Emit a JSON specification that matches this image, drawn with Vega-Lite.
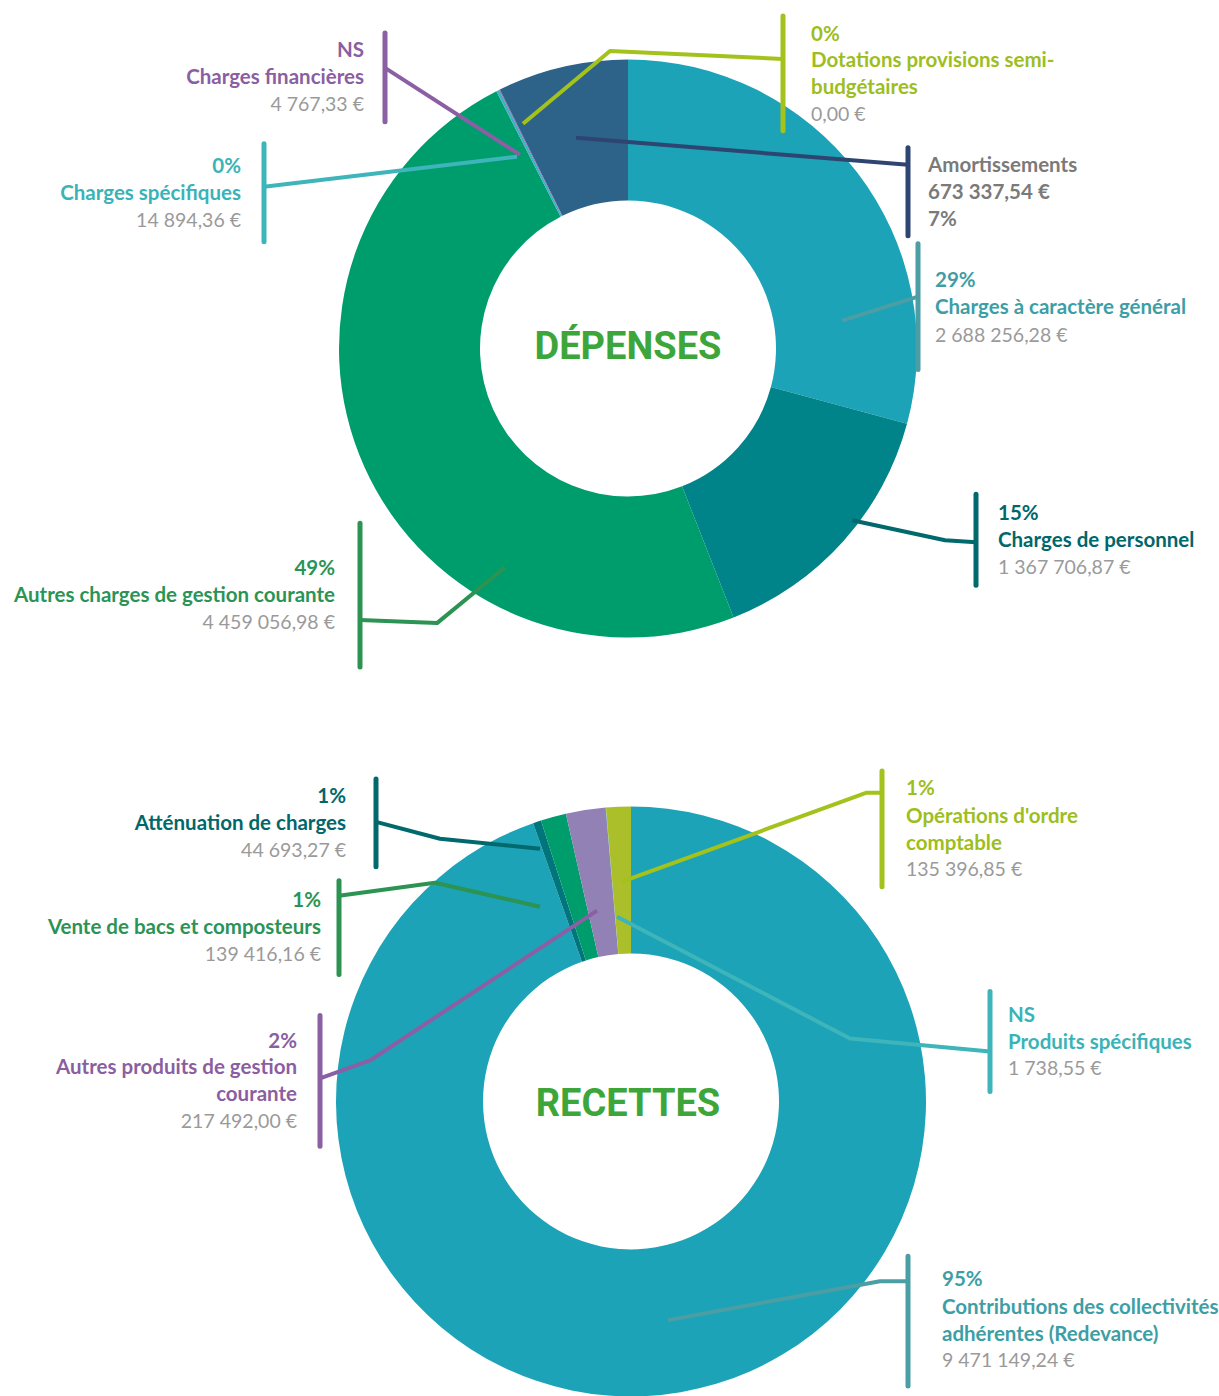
{
  "$schema": "https://vega.github.io/schema/vega-lite/v6.json",
  "width": 1219,
  "height": 1396,
  "autosize": {"type": "fit", "contains": "padding"},
  "padding": 0,
  "background": "white",
  "config": {"view": {"stroke": null}, "font": "Lato"},
  "datasets": {
    "slices": [
      {"chart": "dep", "cat": "Charges à caractère général", "value": 2688256.28, "ord": 1},
      {"chart": "dep", "cat": "Charges de personnel", "value": 1367706.87, "ord": 2},
      {"chart": "dep", "cat": "Autres charges de gestion courante", "value": 4459056.98, "ord": 3},
      {"chart": "dep", "cat": "Charges spécifiques", "value": 14894.36, "ord": 4},
      {"chart": "dep", "cat": "Charges financières", "value": 4767.33, "ord": 5},
      {"chart": "dep", "cat": "Amortissements", "value": 673337.54, "ord": 6},
      {"chart": "dep", "cat": "Dotations provisions semi-budgétaires", "value": 0, "ord": 7},
      {"chart": "rec", "cat": "Contributions des collectivités adhérentes (Redevance)", "value": 9471149.24, "ord": 1},
      {"chart": "rec", "cat": "Atténuation de charges", "value": 44693.27, "ord": 2},
      {"chart": "rec", "cat": "Vente de bacs et composteurs", "value": 139416.16, "ord": 3},
      {"chart": "rec", "cat": "Autres produits de gestion courante", "value": 217492.00, "ord": 4},
      {"chart": "rec", "cat": "Produits spécifiques", "value": 1738.55, "ord": 5},
      {"chart": "rec", "cat": "Opérations d'ordre comptable", "value": 135396.85, "ord": 6}
    ],
    "bars": [
      {"cat": "Charges financières", "x": 385, "y": 33, "y2": 122},
      {"cat": "Dotations provisions semi-budgétaires", "x": 783, "y": 16, "y2": 131},
      {"cat": "Charges spécifiques", "x": 264, "y": 144, "y2": 242},
      {"cat": "Amortissements", "x": 908, "y": 148, "y2": 236},
      {"cat": "Charges à caractère général", "x": 918, "y": 244, "y2": 370},
      {"cat": "Charges de personnel", "x": 976, "y": 495, "y2": 586},
      {"cat": "Autres charges de gestion courante", "x": 360, "y": 524, "y2": 668},
      {"cat": "Atténuation de charges", "x": 376, "y": 780, "y2": 868},
      {"cat": "Vente de bacs et composteurs", "x": 339, "y": 882, "y2": 976},
      {"cat": "Autres produits de gestion courante", "x": 320, "y": 1017, "y2": 1148},
      {"cat": "Opérations d'ordre comptable", "x": 882, "y": 772, "y2": 888},
      {"cat": "Produits spécifiques", "x": 990, "y": 993, "y2": 1093},
      {"cat": "Contributions des collectivités adhérentes (Redevance)", "x": 908, "y": 1258, "y2": 1388}
    ],
    "leaders": [
      {"cat": "Charges financières", "i": 1, "x": 385, "y": 68},
      {"cat": "Charges financières", "i": 2, "x": 520, "y": 155},
      {"cat": "Dotations provisions semi-budgétaires", "i": 1, "x": 783, "y": 59},
      {"cat": "Dotations provisions semi-budgétaires", "i": 2, "x": 610, "y": 51},
      {"cat": "Dotations provisions semi-budgétaires", "i": 3, "x": 523, "y": 124},
      {"cat": "Charges spécifiques", "i": 1, "x": 264, "y": 187},
      {"cat": "Charges spécifiques", "i": 2, "x": 517, "y": 157},
      {"cat": "Amortissements", "i": 1, "x": 908, "y": 165},
      {"cat": "Amortissements", "i": 2, "x": 576, "y": 138},
      {"cat": "Charges à caractère général", "i": 1, "x": 918, "y": 297},
      {"cat": "Charges à caractère général", "i": 2, "x": 842, "y": 321},
      {"cat": "Charges de personnel", "i": 1, "x": 976, "y": 543},
      {"cat": "Charges de personnel", "i": 2, "x": 945, "y": 541},
      {"cat": "Charges de personnel", "i": 3, "x": 852, "y": 521},
      {"cat": "Autres charges de gestion courante", "i": 1, "x": 360, "y": 621},
      {"cat": "Autres charges de gestion courante", "i": 2, "x": 437, "y": 624},
      {"cat": "Autres charges de gestion courante", "i": 3, "x": 505, "y": 568},
      {"cat": "Atténuation de charges", "i": 1, "x": 376, "y": 823},
      {"cat": "Atténuation de charges", "i": 2, "x": 440, "y": 840},
      {"cat": "Atténuation de charges", "i": 3, "x": 540, "y": 850},
      {"cat": "Vente de bacs et composteurs", "i": 1, "x": 339, "y": 897},
      {"cat": "Vente de bacs et composteurs", "i": 2, "x": 435, "y": 884},
      {"cat": "Vente de bacs et composteurs", "i": 3, "x": 540, "y": 908},
      {"cat": "Autres produits de gestion courante", "i": 1, "x": 320, "y": 1080},
      {"cat": "Autres produits de gestion courante", "i": 2, "x": 370, "y": 1062},
      {"cat": "Autres produits de gestion courante", "i": 3, "x": 597, "y": 912},
      {"cat": "Opérations d'ordre comptable", "i": 1, "x": 882, "y": 794},
      {"cat": "Opérations d'ordre comptable", "i": 2, "x": 866, "y": 794},
      {"cat": "Opérations d'ordre comptable", "i": 3, "x": 622, "y": 883},
      {"cat": "Produits spécifiques", "i": 1, "x": 990, "y": 1053},
      {"cat": "Produits spécifiques", "i": 2, "x": 850, "y": 1040},
      {"cat": "Produits spécifiques", "i": 3, "x": 617, "y": 918},
      {"cat": "Contributions des collectivités adhérentes (Redevance)", "i": 1, "x": 908, "y": 1283},
      {"cat": "Contributions des collectivités adhérentes (Redevance)", "i": 2, "x": 880, "y": 1283},
      {"cat": "Contributions des collectivités adhérentes (Redevance)", "i": 3, "x": 668, "y": 1322}
    ],
    "labels": [
      {"cat": "Charges financières", "side": "L", "kind": "head", "text": "NS", "x": 364, "y": 51},
      {"cat": "Charges financières", "side": "L", "kind": "head", "text": "Charges financières", "x": 364, "y": 78},
      {"cat": "Charges financières", "side": "L", "kind": "amount", "text": "4 767,33 €", "x": 364, "y": 105},
      {"cat": "Dotations provisions semi-budgétaires", "side": "R", "kind": "head", "text": "0%", "x": 811, "y": 35},
      {"cat": "Dotations provisions semi-budgétaires", "side": "R", "kind": "head", "text": "Dotations provisions semi-", "x": 811, "y": 61},
      {"cat": "Dotations provisions semi-budgétaires", "side": "R", "kind": "head", "text": "budgétaires", "x": 811, "y": 88},
      {"cat": "Dotations provisions semi-budgétaires", "side": "R", "kind": "amount", "text": "0,00 €", "x": 811, "y": 115},
      {"cat": "Charges spécifiques", "side": "L", "kind": "head", "text": "0%", "x": 241, "y": 167},
      {"cat": "Charges spécifiques", "side": "L", "kind": "head", "text": "Charges spécifiques", "x": 241, "y": 194},
      {"cat": "Charges spécifiques", "side": "L", "kind": "amount", "text": "14 894,36 €", "x": 241, "y": 221},
      {"cat": "Amortissements", "side": "R", "kind": "head", "text": "Amortissements", "x": 928, "y": 166},
      {"cat": "Amortissements", "side": "R", "kind": "head", "text": "673 337,54 €", "x": 928, "y": 193},
      {"cat": "Amortissements", "side": "R", "kind": "head", "text": "7%", "x": 928, "y": 220},
      {"cat": "Charges à caractère général", "side": "R", "kind": "head", "text": "29%", "x": 935, "y": 281},
      {"cat": "Charges à caractère général", "side": "R", "kind": "head", "text": "Charges à caractère général", "x": 935, "y": 308},
      {"cat": "Charges à caractère général", "side": "R", "kind": "amount", "text": "2 688 256,28 €", "x": 935, "y": 336},
      {"cat": "Charges de personnel", "side": "R", "kind": "head", "text": "15%", "x": 998, "y": 515},
      {"cat": "Charges de personnel", "side": "R", "kind": "head", "text": "Charges de personnel", "x": 998, "y": 542},
      {"cat": "Charges de personnel", "side": "R", "kind": "amount", "text": "1 367 706,87 €", "x": 998, "y": 569},
      {"cat": "Autres charges de gestion courante", "side": "L", "kind": "head", "text": "49%", "x": 335, "y": 570},
      {"cat": "Autres charges de gestion courante", "side": "L", "kind": "head", "text": "Autres charges de gestion courante", "x": 335, "y": 597},
      {"cat": "Autres charges de gestion courante", "side": "L", "kind": "amount", "text": "4 459 056,98 €", "x": 335, "y": 624},
      {"cat": "Atténuation de charges", "side": "L", "kind": "head", "text": "1%", "x": 346, "y": 798},
      {"cat": "Atténuation de charges", "side": "L", "kind": "head", "text": "Atténuation de charges", "x": 346, "y": 825},
      {"cat": "Atténuation de charges", "side": "L", "kind": "amount", "text": "44 693,27 €", "x": 346, "y": 852},
      {"cat": "Vente de bacs et composteurs", "side": "L", "kind": "head", "text": "1%", "x": 321, "y": 902},
      {"cat": "Vente de bacs et composteurs", "side": "L", "kind": "head", "text": "Vente de bacs et composteurs", "x": 321, "y": 929},
      {"cat": "Vente de bacs et composteurs", "side": "L", "kind": "amount", "text": "139 416,16 €", "x": 321, "y": 956},
      {"cat": "Autres produits de gestion courante", "side": "L", "kind": "head", "text": "2%", "x": 297, "y": 1043},
      {"cat": "Autres produits de gestion courante", "side": "L", "kind": "head", "text": "Autres produits de gestion", "x": 297, "y": 1070},
      {"cat": "Autres produits de gestion courante", "side": "L", "kind": "head", "text": "courante", "x": 297, "y": 1097},
      {"cat": "Autres produits de gestion courante", "side": "L", "kind": "amount", "text": "217 492,00 €", "x": 297, "y": 1124},
      {"cat": "Opérations d'ordre comptable", "side": "R", "kind": "head", "text": "1%", "x": 906, "y": 790},
      {"cat": "Opérations d'ordre comptable", "side": "R", "kind": "head", "text": "Opérations d'ordre", "x": 906, "y": 818},
      {"cat": "Opérations d'ordre comptable", "side": "R", "kind": "head", "text": "comptable", "x": 906, "y": 845},
      {"cat": "Opérations d'ordre comptable", "side": "R", "kind": "amount", "text": "135 396,85 €", "x": 906, "y": 871},
      {"cat": "Produits spécifiques", "side": "R", "kind": "head", "text": "NS", "x": 1008, "y": 1017},
      {"cat": "Produits spécifiques", "side": "R", "kind": "head", "text": "Produits spécifiques", "x": 1008, "y": 1044},
      {"cat": "Produits spécifiques", "side": "R", "kind": "amount", "text": "1 738,55 €", "x": 1008, "y": 1071},
      {"cat": "Contributions des collectivités adhérentes (Redevance)", "side": "R", "kind": "head", "text": "95%", "x": 942, "y": 1282},
      {"cat": "Contributions des collectivités adhérentes (Redevance)", "side": "R", "kind": "head", "text": "Contributions des collectivités", "x": 942, "y": 1310},
      {"cat": "Contributions des collectivités adhérentes (Redevance)", "side": "R", "kind": "head", "text": "adhérentes (Redevance)", "x": 942, "y": 1337},
      {"cat": "Contributions des collectivités adhérentes (Redevance)", "side": "R", "kind": "amount", "text": "9 471 149,24 €", "x": 942, "y": 1363}
    ],
    "titles": [
      {"text": "DÉPENSES", "x": 628, "y": 348},
      {"text": "RECETTES", "x": 628, "y": 1107}
    ]
  },
  "resolve": {"scale": {"theta": "independent"}},
  "layer": [
    {
      "data": {"name": "slices"},
      "transform": [{"filter": "datum.chart == 'dep'"}],
      "mark": {"type": "arc", "radius": 289, "radius2": 148},
      "encoding": {
        "x": {"datum": 628, "type": "quantitative", "scale": {"domain": [0, 1219], "nice": false, "zero": false}, "axis": null},
        "y": {"datum": 349, "type": "quantitative", "scale": {"domain": [0, 1396], "nice": false, "zero": false, "reverse": true}, "axis": null},
        "theta": {"field": "value", "type": "quantitative", "stack": true},
        "order": {"field": "ord", "type": "quantitative"},
        "color": {
          "field": "cat", "type": "nominal", "legend": null,
          "scale": {
            "domain": ["Charges à caractère général", "Charges de personnel", "Autres charges de gestion courante", "Charges spécifiques", "Charges financières", "Amortissements", "Dotations provisions semi-budgétaires", "Contributions des collectivités adhérentes (Redevance)", "Atténuation de charges", "Vente de bacs et composteurs", "Autres produits de gestion courante", "Produits spécifiques", "Opérations d'ordre comptable"],
            "range": ["#1CA3B7", "#00848A", "#009D6C", "#3DB2C4", "#8B62A8", "#2E6389", "#A7C02B", "#1CA3B7", "#00767C", "#009D6C", "#9281B5", "#3DB2C4", "#AABF2A"]
          }
        }
      }
    },
    {
      "data": {"name": "slices"},
      "transform": [{"filter": "datum.chart == 'rec'"}],
      "mark": {"type": "arc", "radius": 295, "radius2": 148},
      "encoding": {
        "x": {"datum": 631, "type": "quantitative"},
        "y": {"datum": 1103, "type": "quantitative"},
        "theta": {"field": "value", "type": "quantitative", "stack": true},
        "order": {"field": "ord", "type": "quantitative"},
        "color": {"field": "cat", "type": "nominal", "legend": null}
      }
    },
    {
      "data": {"name": "leaders"},
      "mark": {"type": "line", "strokeWidth": 4, "strokeJoin": "round", "strokeCap": "butt"},
      "encoding": {
        "x": {"field": "x", "type": "quantitative"},
        "y": {"field": "y", "type": "quantitative"},
        "detail": {"field": "cat"},
        "order": {"field": "i", "type": "quantitative"},
        "stroke": {
          "field": "cat", "type": "nominal", "legend": null,
          "scale": {
            "domain": ["Charges à caractère général", "Charges de personnel", "Autres charges de gestion courante", "Charges spécifiques", "Charges financières", "Amortissements", "Dotations provisions semi-budgétaires", "Contributions des collectivités adhérentes (Redevance)", "Atténuation de charges", "Vente de bacs et composteurs", "Autres produits de gestion courante", "Produits spécifiques", "Opérations d'ordre comptable"],
            "range": ["#4B9EA4", "#00696D", "#2C9352", "#3DB5BA", "#8A5FA3", "#2D4570", "#A3C21B", "#4B9EA4", "#00696D", "#2C9352", "#8A5FA3", "#3DB5BA", "#A3C21B"]
          }
        }
      }
    },
    {
      "data": {"name": "bars"},
      "mark": {"type": "rule", "strokeWidth": 5, "strokeCap": "round"},
      "encoding": {
        "x": {"field": "x", "type": "quantitative"},
        "y": {"field": "y", "type": "quantitative"},
        "y2": {"field": "y2"},
        "stroke": {"field": "cat", "type": "nominal", "legend": null}
      }
    },
    {
      "data": {"name": "labels"},
      "transform": [{"filter": "datum.kind == 'head' && datum.side == 'L'"}],
      "mark": {"type": "text", "align": "right", "baseline": "middle", "font": "Lato", "fontWeight": "bold", "fontSize": 20.5},
      "encoding": {
        "x": {"field": "x", "type": "quantitative"},
        "y": {"field": "y", "type": "quantitative"},
        "text": {"field": "text"},
        "fill": {
          "field": "cat", "type": "nominal", "legend": null,
          "scale": {
            "domain": ["Charges à caractère général", "Charges de personnel", "Autres charges de gestion courante", "Charges spécifiques", "Charges financières", "Amortissements", "Dotations provisions semi-budgétaires", "Contributions des collectivités adhérentes (Redevance)", "Atténuation de charges", "Vente de bacs et composteurs", "Autres produits de gestion courante", "Produits spécifiques", "Opérations d'ordre comptable"],
            "range": ["#3D9EA6", "#00676B", "#2A9456", "#3AB3B8", "#8B5EA2", "#7A7A7A", "#9DBE1E", "#3D9EA6", "#00676B", "#2A9456", "#8B5EA2", "#3AB3B8", "#9DBE1E"]
          }
        }
      }
    },
    {
      "data": {"name": "labels"},
      "transform": [{"filter": "datum.kind == 'head' && datum.side == 'R'"}],
      "mark": {"type": "text", "align": "left", "baseline": "middle", "font": "Lato", "fontWeight": "bold", "fontSize": 20.5},
      "encoding": {
        "x": {"field": "x", "type": "quantitative"},
        "y": {"field": "y", "type": "quantitative"},
        "text": {"field": "text"},
        "fill": {"field": "cat", "type": "nominal", "legend": null}
      }
    },
    {
      "data": {"name": "labels"},
      "transform": [{"filter": "datum.kind == 'amount' && datum.side == 'L'"}],
      "mark": {"type": "text", "align": "right", "baseline": "middle", "font": "Lato", "fontSize": 19.5, "color": "#9A9A9A"},
      "encoding": {
        "x": {"field": "x", "type": "quantitative"},
        "y": {"field": "y", "type": "quantitative"},
        "text": {"field": "text"}
      }
    },
    {
      "data": {"name": "labels"},
      "transform": [{"filter": "datum.kind == 'amount' && datum.side == 'R'"}],
      "mark": {"type": "text", "align": "left", "baseline": "middle", "font": "Lato", "fontSize": 19.5, "color": "#9A9A9A"},
      "encoding": {
        "x": {"field": "x", "type": "quantitative"},
        "y": {"field": "y", "type": "quantitative"},
        "text": {"field": "text"}
      }
    },
    {
      "data": {"name": "titles"},
      "mark": {"type": "text", "align": "center", "baseline": "middle", "font": "Roboto", "fontWeight": "bold", "fontSize": 38, "letterSpacing": 6, "color": "#3DA63A"},
      "encoding": {
        "x": {"field": "x", "type": "quantitative"},
        "y": {"field": "y", "type": "quantitative"},
        "text": {"field": "text"}
      }
    }
  ]
}
